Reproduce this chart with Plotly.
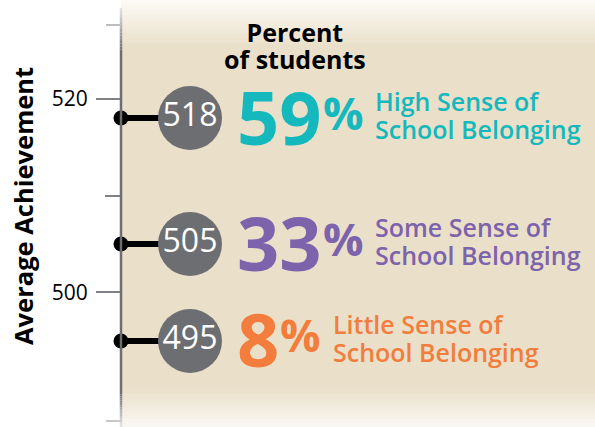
import plotly.graph_objects as go

# ---- data ----
scores = [518, 505, 495]
percents = [59, 33, 8]
labels = ["High Sense of<br>School Belonging",
          "Some Sense of<br>School Belonging",
          "Little Sense of<br>School Belonging"]
colors = ["#15B8BC", "#7D63AB", "#F27D3D"]
tick_values = [500, 520]
tick_labels = ["500", "520"]
minor_tick_values = [510]
axis_title = "Average Achievement"
header_text = "Percent<br>of students"

# ---- layout constants ----
W, H = 595, 427
L = 121
FONT = "Open Sans"
Y_RANGE = [486.12, 530.18]
BEIGE = "#EAE0CA"
AXIS_GRAY = "#6D6E71"
CIRCLE_X = 69
BIG_FS = 74
PCT_FS = 45
LABEL_FS = 25


def hex2rgb(h):
    h = h.lstrip("#")
    return tuple(int(h[i:i + 2], 16) for i in (0, 2, 4))


def mix(c0, c1, t):
    a, b = hex2rgb(c0), hex2rgb(c1)
    return "rgb(%d,%d,%d)" % tuple(round(a[i] + (b[i] - a[i]) * t) for i in range(3))


def py(p):  # pixel row -> paper y
    return 1 - p / H


def pxp(p):  # pixel column -> paper x
    return (p - L) / (W - L)


def sized(txt, size):
    # keep tight line spacing: base font sets line pitch, span sets glyph size
    return "<br>".join('<span style="font-size:%spx">%s</span>' % (size, t) for t in txt.split("<br>"))


shapes = []


def grad_rect(p0, p1, c0, c1, n=24):
    step = (p1 - p0) / n
    for i in range(n):
        t = (i + 0.5) / n
        shapes.append(dict(type="rect", xref="paper", yref="paper", x0=0, x1=1,
                           y0=py(p0 + i * step), y1=py(p0 + (i + 1) * step + 0.6),
                           fillcolor=mix(c0, c1, t), line_width=0, layer="below"))


def grad_line(p0, p1, c0, c1, n=16, width=2.5):
    step = (p1 - p0) / n
    for i in range(n):
        t = (i + 0.5) / n
        shapes.append(dict(type="line", xref="paper", yref="paper", x0=0, x1=0,
                           y0=py(p0 + i * step), y1=py(p0 + (i + 1) * step),
                           line=dict(color=mix(c0, c1, t), width=width), layer="above"))


# beige panel with faded ends
grad_rect(0, 46, "#FDFBF6", BEIGE)
shapes.append(dict(type="rect", xref="paper", yref="paper", x0=0, x1=1,
                   y0=py(390), y1=py(45.5), fillcolor=BEIGE, line_width=0, layer="below"))
grad_rect(389.5, 427, BEIGE, "#FAF8F3")

# axis line with faded ends
grad_line(8, 52, "#E4E4E4", AXIS_GRAY)
shapes.append(dict(type="line", xref="paper", yref="paper", x0=0, x1=0,
                   y0=py(392), y1=py(52), line=dict(color=AXIS_GRAY, width=2.5), layer="above"))
grad_line(392, 427, AXIS_GRAY, "#E6E6E6")

# faded end ticks (decorative)
for p, c in [(25, "#BDBDBD"), (421, "#C8C8C8")]:
    shapes.append(dict(type="line", xref="paper", yref="paper", x0=pxp(106), x1=0,
                       y0=py(p), y1=py(p), line=dict(color=c, width=2), layer="above"))

fig = go.Figure()

# connectors
cx, cy = [], []
for s in scores:
    cx += [0, CIRCLE_X, None]
    cy += [s, s, None]
fig.add_trace(go.Scatter(x=cx, y=cy, mode="lines", line=dict(color="black", width=6),
                         hoverinfo="skip", cliponaxis=False))
# dots on the axis
fig.add_trace(go.Scatter(x=[0] * len(scores), y=scores, mode="markers",
                         marker=dict(color="black", size=15), hoverinfo="skip", cliponaxis=False))
# score circles
fig.add_trace(go.Scatter(x=[CIRCLE_X] * len(scores), y=scores, mode="markers+text",
                         text=[str(s) for s in scores], textposition="middle center",
                         textfont=dict(family=FONT, size=32, color="white"),
                         marker=dict(color=AXIS_GRAY, size=64, line=dict(width=0)),
                         hoverinfo="skip", cliponaxis=False))

annotations = []
digit_w = 0.572 * BIG_FS
for s, p, lab, col in zip(scores, percents, labels, colors):
    px = 114
    annotations.append(dict(x=px, y=s, xref="x", yref="y", text=str(p), showarrow=False,
                            xanchor="left", yanchor="middle", yshift=2,
                            font=dict(family=FONT, size=BIG_FS, color=col, weight=700)))
    sx = px + len(str(p)) * digit_w + 1
    annotations.append(dict(x=sx, y=s, xref="x", yref="y", text="%", showarrow=False,
                            xanchor="left", yanchor="middle", yshift=6,
                            font=dict(family=FONT, size=PCT_FS, color=col, weight=700)))
    lx = sx + 0.9 * PCT_FS + 12
    annotations.append(dict(x=lx, y=s, xref="x", yref="y", text=sized(lab, LABEL_FS),
                            showarrow=False, xanchor="left", yanchor="middle", yshift=3,
                            align="left",
                            font=dict(family=FONT, size=21.5, color=col, weight=600)))

# header
annotations.append(dict(x=174, y=py(45), xref="x", yref="paper", text=sized(header_text, 25),
                        showarrow=False, xanchor="center", yanchor="middle", align="center",
                        font=dict(family=FONT, size=21, color="black", weight=700)))

# axis title
annotations.append(dict(x=pxp(23), y=py(206), xref="paper", yref="paper", text=axis_title,
                        showarrow=False, textangle=-90, xanchor="center", yanchor="middle",
                        font=dict(family=FONT, size=25.5, color="black", weight=700)))

fig.update_layout(
    width=W, height=H,
    margin=dict(l=L, r=0, t=0, b=0, autoexpand=False),
    paper_bgcolor="white", plot_bgcolor="rgba(0,0,0,0)",
    showlegend=False,
    shapes=shapes,
    annotations=annotations,
    xaxis=dict(range=[0, W - L], visible=False, fixedrange=True),
    yaxis=dict(range=Y_RANGE, showgrid=False, zeroline=False, showline=False,
               tickmode="array", tickvals=tick_values, ticktext=tick_labels,
               ticks="outside", ticklen=24, tickwidth=2, tickcolor="#808285",
               ticklabelstandoff=4,
               tickfont=dict(family=FONT, size=21, color="black"),
               minor=dict(tickmode="array", tickvals=minor_tick_values, ticks="outside",
                          ticklen=15, tickwidth=2, tickcolor="#808285", showgrid=False),
               fixedrange=True),
)

fig.write_html("out.html", config={"displayModeBar": False, "staticPlot": True},
               post_script="document.body.style.margin='0';")
